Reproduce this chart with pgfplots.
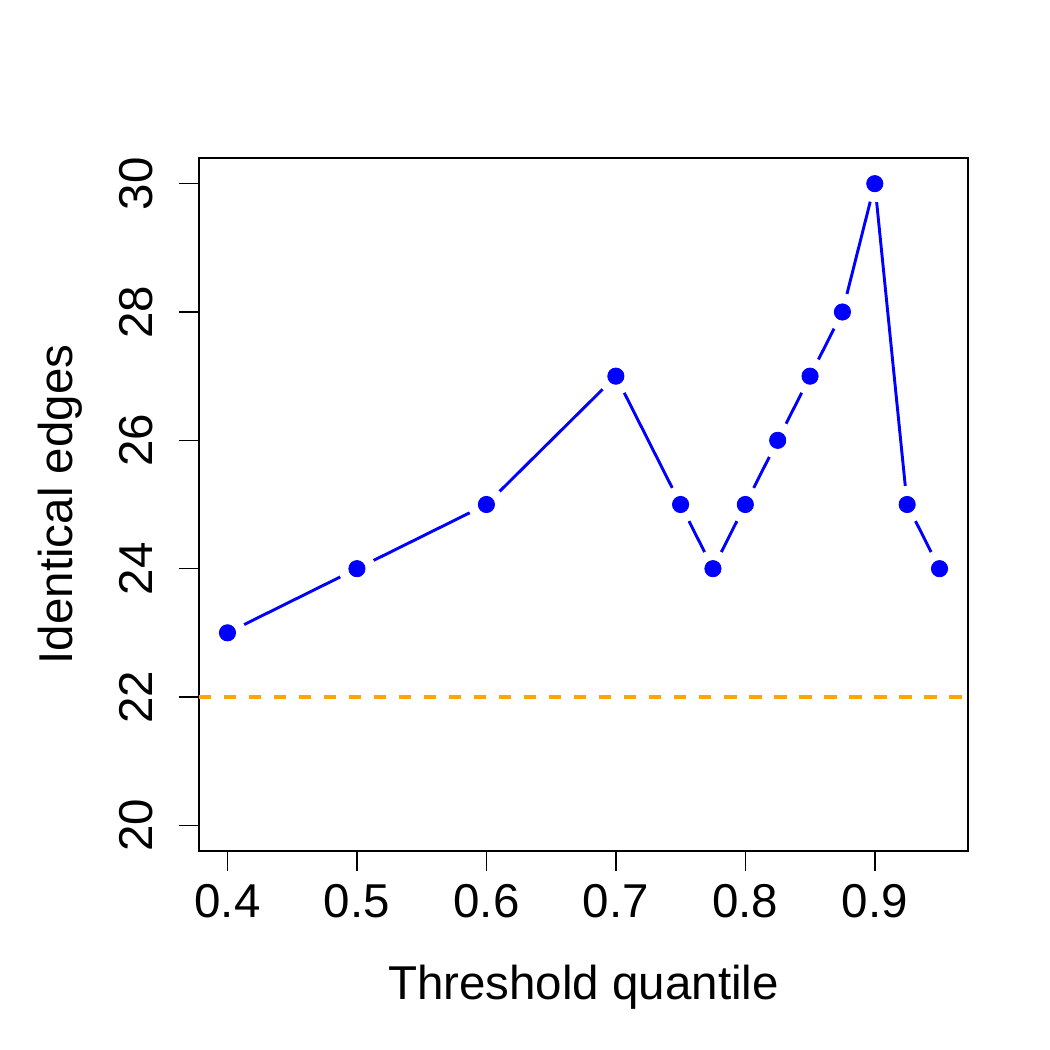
\documentclass[border=0pt]{standalone}
\usepackage{pgfplots}
\pgfplotsset{compat=1.18}
\usepackage{fontspec}
\setmainfont{Liberation Sans}
\definecolor{rorange}{RGB}{255,165,0}
\definecolor{rblue}{RGB}{0,0,255}
\begin{document}
\fontsize{22.8pt}{27pt}\selectfont
\begin{tikzpicture}
\begin{axis}[
  scale only axis,
  width=369.12pt, height=332.64pt,
  xmin=0.378, xmax=0.972, ymin=19.6, ymax=30.4,
  axis line style={line width=0.75pt},
  tick style={line width=0.75pt, black},
  tick align=outside, major tick length=9.6pt,
  xtick={0.4,0.5,0.6,0.7,0.8,0.9},
  xticklabels={0.4,0.5,0.6,0.7,0.8,0.9},
  ytick={20,22,24,26,28,30},
  yticklabels={20,22,24,26,28,30},
  xtick pos=bottom, ytick pos=left,
  xticklabel style={anchor=north, inner sep=0pt},
  yticklabel style={rotate=90, anchor=base, inner sep=0pt},
  xticklabel shift=6.4pt,
  yticklabel shift=12.5pt,
  xlabel={Threshold quantile},
  ylabel={Identical edges},
  every axis x label/.style={at={(axis description cs:0.5,-0.2150)}, anchor=base, inner sep=0pt},
  every axis y label/.style={at={(axis description cs:-0.1639,0.5)}, rotate=90, anchor=base, inner sep=0pt},
]
\addplot[rorange, line width=1.5pt, dash pattern=on 6pt off 6pt] coordinates {(0.378,22) (0.972,22)};
\addplot[rblue, line width=1.4pt, mark=none] coordinates {
(0.4,23) (0.5,24) (0.6,25) (0.7,27) (0.75,25) (0.775,24) (0.8,25) (0.825,26) (0.85,27) (0.875,28) (0.9,30) (0.925,25) (0.95,24)};
\addplot[white, only marks, mark=*, mark size=8.7pt] coordinates {
(0.4,23) (0.5,24) (0.6,25) (0.7,27) (0.75,25) (0.775,24) (0.8,25) (0.825,26) (0.85,27) (0.875,28) (0.9,30) (0.925,25) (0.95,24)};
\addplot[rblue, only marks, mark=*, mark size=3.9pt] coordinates {
(0.4,23) (0.5,24) (0.6,25) (0.7,27) (0.75,25) (0.775,24) (0.8,25) (0.825,26) (0.85,27) (0.875,28) (0.9,30) (0.925,25) (0.95,24)};
\end{axis}
\path[use as bounding box] ([xshift=-95.52pt,yshift=-95.52pt]current axis.south west) rectangle ([xshift=39.36pt,yshift=75.84pt]current axis.north east);
\end{tikzpicture}
\end{document}
